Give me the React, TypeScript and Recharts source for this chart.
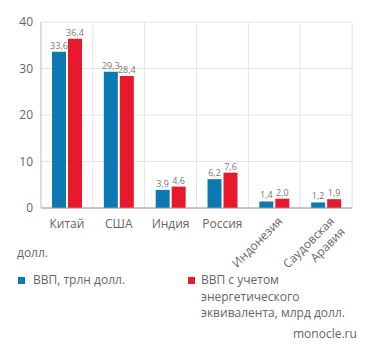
import React from "react";
import {
  BarChart,
  Bar,
  XAxis,
  YAxis,
  CartesianGrid,
  LabelList,
} from "recharts";

const countries = ["Китай", "США", "Индия", "Россия", "Индонезия", "Саудовская\nАравия"];
const gdp = [33.6, 29.3, 3.9, 6.2, 1.4, 1.2];
const gdpEnergy = [36.4, 28.4, 4.6, 7.6, 2.0, 1.9];
const yTicks = [0, 10, 20, 30, 40];

const BLUE = "#0b7ab3";
const RED = "#e8192c";
const FONT = "'Open Sans', sans-serif";
const TEXT = "#666";

const data = countries.map((c, i) => ({
  name: c,
  gdp: gdp[i],
  energy: gdpEnergy[i],
}));

const fmt = (v: any) => Number(v).toFixed(1).replace(".", ",");

function CountryTick(props: any) {
  const { x, y, payload, index } = props;
  const lines = String(payload.value).split("\n");
  if (index < 4) {
    return (
      <text x={x} y={y + 12} textAnchor="middle" fontSize={12} fill={TEXT} fontFamily={FONT}>
        {lines[0]}
      </text>
    );
  }
  return (
    <g transform={`translate(${x + 9},${y + 6}) rotate(-45)`}>
      {lines.map((l, i) => (
        <text key={i} x={0} y={i * 15} textAnchor="end" fontSize={12} fill={TEXT} fontFamily={FONT}>
          {l}
        </text>
      ))}
    </g>
  );
}

export default function App() {
  return (
    <div
      style={{
        position: "absolute",
        left: 0,
        top: 0,
        width: 371,
        height: 355,
        background: "#fff",
        fontFamily: FONT,
      }}
    >
      <BarChart
        width={371}
        height={355}
        data={data}
        margin={{ top: 22, right: 19, left: 0, bottom: 0 }}
        barCategoryGap={11}
        barGap={2}
      >
        <CartesianGrid
          stroke="#e4e4e4"
          verticalCoordinatesGenerator={({ offset }: any) =>
            countries.map((_, i) => offset.left + ((i + 1) * offset.width) / countries.length)
          }
        />
        <XAxis
          dataKey="name"
          height={147}
          interval={0}
          tick={<CountryTick />}
          tickLine={false}
          axisLine={{ stroke: "#999" }}
        />
        <YAxis
          width={41}
          domain={[0, 40]}
          ticks={yTicks}
          tickLine={false}
          axisLine={{ stroke: "#bbb" }}
          tick={{ fill: TEXT, fontSize: 12, fontFamily: FONT }}
        />
        <Bar dataKey="gdp" fill={BLUE} isAnimationActive={false}>
          <LabelList
            dataKey="gdp"
            position="top"
            formatter={fmt}
            offset={3}
            style={{ fill: "#777", fontSize: 9, fontFamily: FONT }}
          />
        </Bar>
        <Bar dataKey="energy" fill={RED} isAnimationActive={false}>
          <LabelList
            dataKey="energy"
            position="top"
            formatter={fmt}
            offset={3}
            style={{ fill: "#777", fontSize: 9, fontFamily: FONT }}
          />
        </Bar>
      </BarChart>

      <div style={{ position: "absolute", left: 17, top: 244, fontSize: 12, color: TEXT }}>долл.</div>

      <div style={{ position: "absolute", left: 18, top: 277, width: 7, height: 7, background: BLUE }} />
      <div style={{ position: "absolute", left: 33, top: 272, fontSize: 12, color: TEXT, lineHeight: "16.5px" }}>
        ВВП, трлн долл.
      </div>

      <div style={{ position: "absolute", left: 188, top: 277, width: 7, height: 7, background: RED }} />
      <div style={{ position: "absolute", left: 201, top: 272, fontSize: 12, color: TEXT, lineHeight: "16.5px" }}>
        ВВП с учетом
        <br />
        энергетического
        <br />
        эквивалента, млрд долл.
      </div>

      <div style={{ position: "absolute", left: 293, top: 325, fontSize: 12, color: TEXT }}>monocle.ru</div>
    </div>
  );
}
